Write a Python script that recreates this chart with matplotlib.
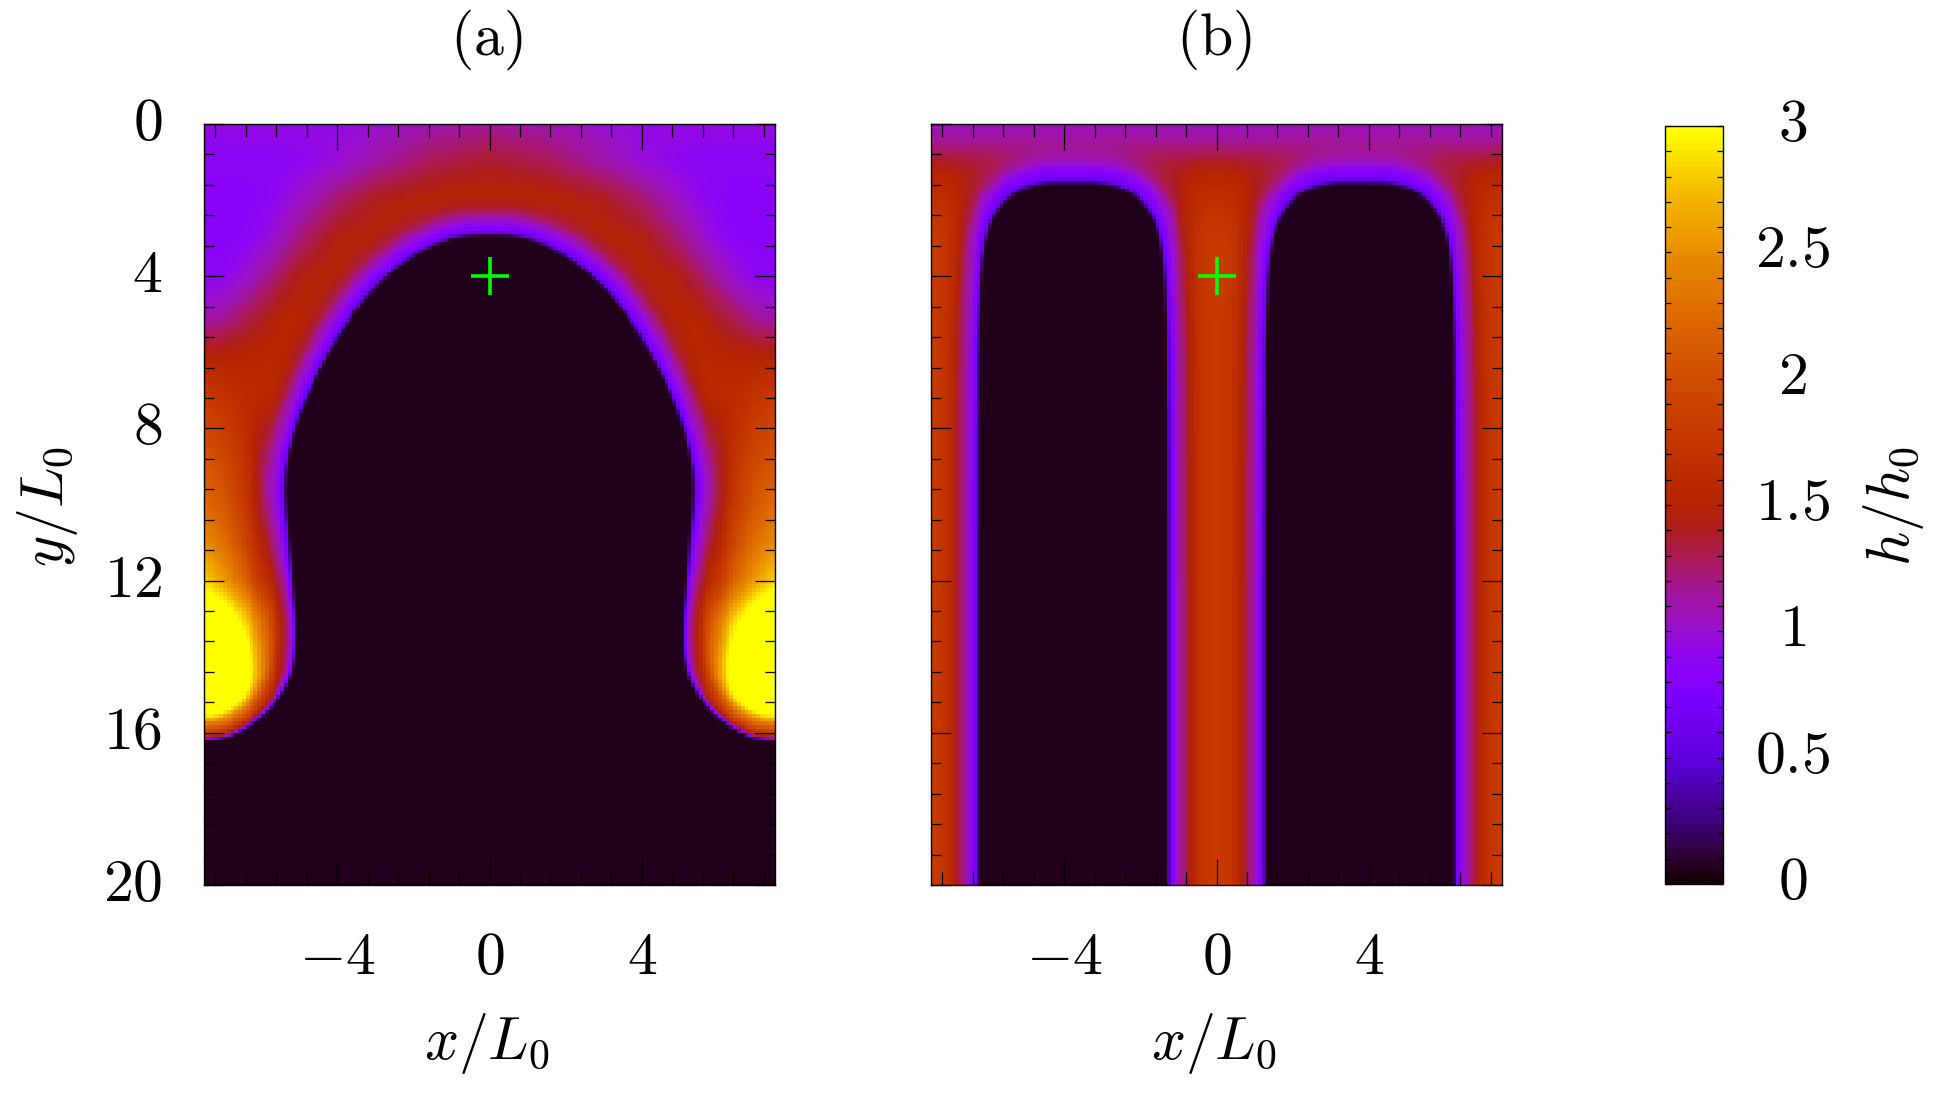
import numpy as np
import matplotlib
matplotlib.use("Agg")
import matplotlib.pyplot as plt
from matplotlib.colors import LinearSegmentedColormap
from matplotlib.path import Path
from matplotlib.ticker import MultipleLocator
from matplotlib.transforms import ScaledTranslation

plt.rcParams['mathtext.fontset'] = 'cm'

# colour scale
cmap_levels = [0.0, 0.05, 0.1, 0.25, 0.5, 0.75, 0.9, 1.0, 1.15, 1.25, 1.4, 1.5, 1.75, 2.0, 2.25, 2.5, 2.75, 3.0]
cmap_colors = ['#140004', '#22001c', '#2e0034', '#3f007f', '#6000e0', '#8000ff', '#8c05f0', '#990fd0',
               '#a0159a', '#a81868', '#ad1c20', '#b42300', '#c43600', '#cf4b00', '#dd6a00', '#e88c00', '#f4bb00', '#ffff00']

# rise of the film height with distance from the dry front (fraction of local ridge height)
ramp_d = [0.0, 0.05, 0.1, 0.2, 0.3, 0.5, 0.65, 0.8, 1.0, 1.28]
ramp_f = [0.03, 0.15, 0.35, 0.50, 0.58, 0.70, 0.82, 0.90, 0.96, 1.0]
dry_h = 0.05

# panel (a): right half of the dry front
front_a_x = [0, 0.6, 1.24, 2.27, 3.3, 4.35, 4.97, 5.22, 5.34, 5.30, 5.22, 5.15, 5.05, 5.05, 5.15, 5.52, 6.14, 6.87, 7.5, 9.0]
front_a_y = [2.96, 2.98, 3.12, 3.66, 4.62, 6.29, 7.69, 8.6, 9.4, 10.2, 11.0, 12.0, 13.1, 13.75, 14.46, 15.15, 15.77, 16.17, 16.25, 16.3]

# panel (a): ridge height, |x| by y
ridge_a_x = [0, 1.5, 3, 4, 5, 5.5, 6, 6.5, 7, 7.5]
ridge_a_y = [0, 1, 2, 3, 4, 5, 6, 7, 8, 9, 10, 11, 12, 13, 14, 15, 16, 21]
ridge_a = [
    [1.15, 1.10, 1.00, 0.95, 0.95, 0.95, 0.95, 0.95, 0.95, 0.95],
    [1.38, 1.30, 1.12, 0.98, 0.90, 0.88, 0.88, 0.88, 0.88, 0.88],
    [1.55, 1.52, 1.42, 1.25, 1.02, 0.93, 0.87, 0.85, 0.85, 0.85],
    [1.52, 1.52, 1.52, 1.46, 1.22, 1.05, 0.93, 0.87, 0.85, 0.85],
    [1.52, 1.52, 1.52, 1.52, 1.45, 1.28, 1.12, 0.98, 0.90, 0.88],
    [1.55, 1.55, 1.55, 1.55, 1.52, 1.50, 1.38, 1.25, 1.12, 1.08],
    [1.60, 1.60, 1.60, 1.60, 1.58, 1.55, 1.52, 1.50, 1.47, 1.45],
    [1.65, 1.65, 1.65, 1.65, 1.65, 1.65, 1.60, 1.60, 1.68, 1.75],
    [1.75, 1.75, 1.75, 1.75, 1.75, 1.70, 1.52, 1.65, 1.85, 1.95],
    [1.75, 1.75, 1.75, 1.75, 1.75, 1.75, 1.52, 1.75, 2.00, 2.10],
    [1.75, 1.75, 1.75, 1.75, 1.75, 1.75, 1.55, 1.85, 2.10, 2.25],
    [1.85, 1.85, 1.85, 1.85, 1.85, 1.85, 1.65, 2.00, 2.30, 2.50],
    [2.10, 2.10, 2.10, 2.10, 2.10, 2.10, 1.85, 2.25, 2.60, 2.85],
    [2.20, 2.20, 2.20, 2.20, 2.20, 2.30, 2.40, 2.90, 3.30, 3.50],
    [2.20, 2.20, 2.20, 2.20, 2.20, 2.30, 2.65, 3.30, 3.60, 3.60],
    [2.50, 2.50, 2.50, 2.50, 2.50, 2.60, 3.00, 3.50, 3.60, 3.60],
    [3.00, 3.00, 3.00, 3.00, 3.00, 3.40, 3.40, 3.40, 3.40, 3.40],
    [3.00, 3.00, 3.00, 3.00, 3.00, 3.40, 3.40, 3.40, 3.40, 3.40],
]

# panel (b): finger centres and the front of one finger, offset from its centre
finger_centres = [-3.77, 3.77]
finger_u = [0, 0.8, 1.41, 1.83, 2.09, 2.25, 2.35, 2.4, 2.45, 2.45]
finger_y = [1.6, 1.6, 1.77, 2.12, 2.52, 3.04, 3.75, 4.6, 6.4, 21.0]

# panel (b): ridge height, distance from gap centre by y
ridge_b_s = [0, 0.5, 1, 2, 3.77]
ridge_b_y = [0, 0.5, 0.8, 1, 1.5, 2, 3, 4, 21]
ridge_b = [
    [1.05, 1.05, 1.05, 1.05, 1.05],
    [1.18, 1.18, 1.18, 1.18, 1.18],
    [1.30, 1.30, 1.28, 1.26, 1.26],
    [1.42, 1.42, 1.36, 1.34, 1.34],
    [1.60, 1.55, 1.45, 1.42, 1.42],
    [1.70, 1.62, 1.52, 1.45, 1.45],
    [1.80, 1.75, 1.68, 1.68, 1.68],
    [1.80, 1.80, 1.78, 1.78, 1.78],
    [1.80, 1.80, 1.78, 1.78, 1.78],
]

cross_x = [0]
cross_y = [4]
major_x = [-4, 0, 4]
major_y = [0, 4, 8, 12, 16, 20]
bar_ticks = [0, 0.5, 1, 1.5, 2, 2.5, 3]
bar_labels = ['0', '0.5', '1', '1.5', '2', '2.5', '3']

W, H = 1935, 1097
FS = 43
nx, ny = 150, 200
xc = (np.arange(nx) + 0.5) * 0.1 - 7.5
yc = (np.arange(ny) + 0.5) * 0.1
XX, YY = np.meshgrid(xc, yc)
edges_x = np.linspace(-7.5, 7.5, nx + 1)
edges_y = np.linspace(0, 20, ny + 1)
edges_x_b = edges_x.copy()
edges_x_b[0] = -7.47


def chaikin(p, n=3):
    for _ in range(n):
        q = [p[0]]
        for a, b in zip(p[:-1], p[1:]):
            q += [0.75 * a + 0.25 * b, 0.25 * a + 0.75 * b]
        q.append(p[-1])
        p = np.array(q)
    return p


def seg_dist(poly):
    a, b = poly[:-1], poly[1:]
    px, py = XX.ravel()[:, None], YY.ravel()[:, None]
    ab = b - a
    t = ((px - a[:, 0]) * ab[:, 0] + (py - a[:, 1]) * ab[:, 1]) / (ab ** 2).sum(1)
    t = np.clip(t, 0, 1)
    dx = px - (a[:, 0] + t * ab[:, 0])
    dy = py - (a[:, 1] + t * ab[:, 1])
    return np.sqrt(dx ** 2 + dy ** 2).min(1).reshape(XX.shape)


def table(sv, yv, rows, S, Y):
    rows = np.array(rows)
    by_col = np.array([np.interp(Y.ravel(), yv, rows[:, j]) for j in range(len(sv))])
    s = S.ravel()
    sv = np.array(sv)
    idx = np.clip(np.searchsorted(sv, s) - 1, 0, len(sv) - 2)
    w = (s - sv[idx]) / (sv[idx + 1] - sv[idx])
    k = np.arange(s.size)
    out = by_col[idx, k] * (1 - w) + by_col[idx + 1, k] * w
    return out.reshape(S.shape)


def blur(f, n=3):
    for _ in range(n):
        g = np.pad(f, 1, mode='edge')
        f = (g[:-2, 1:-1] + g[2:, 1:-1] + g[1:-1, :-2] + g[1:-1, 2:] + 2 * g[1:-1, 1:-1]) / 6
    return f


def field(polys, ridge):
    h = np.full(XX.shape, np.inf)
    inside = np.zeros(XX.shape, bool)
    pts = np.c_[XX.ravel(), YY.ravel()]
    for poly in polys:
        h = np.minimum(h, seg_dist(poly))
        closed = np.vstack([poly, [poly[-1, 0], 40], [poly[0, 0], 40]])
        inside |= Path(closed).contains_points(pts).reshape(XX.shape)
    f = np.where(inside, dry_h, ridge * np.interp(h, ramp_d, ramp_f))
    return np.maximum(f, dry_h)


half = np.c_[front_a_x, front_a_y]
full = np.vstack([(half * [-1, 1])[:0:-1], half])
poly_a = chaikin(full)
h_a = field([poly_a], blur(table(ridge_a_x, ridge_a_y, ridge_a, np.abs(XX), YY)))

polys_b = []
for c in finger_centres:
    u = np.array(finger_u)
    y = np.array(finger_y)
    px = np.r_[c - u[::-1], c + u[1:]]
    py = np.r_[y[::-1], y[1:]]
    polys_b.append(chaikin(np.c_[px, py]))
gap = np.abs(np.abs(XX) - 7.54 * np.round(np.abs(XX) / 7.54))
h_b = field(polys_b, blur(table(ridge_b_s, ridge_b_y, ridge_b, gap, YY), 5))

cmap = LinearSegmentedColormap.from_list('film', [(v / 3.0, c) for v, c in zip(cmap_levels, cmap_colors)], N=128)

fig = plt.figure(figsize=(W / 100, H / 100), dpi=100, facecolor='white')


def add_axes(l, t, r, b):
    return fig.add_axes([l / W, 1 - b / H, (r - l) / W, (b - t) / H])


def nudge(labels, dx_px, dy_px):
    off = ScaledTranslation(dx_px / 100, dy_px / 100, fig.dpi_scale_trans)
    for lab in labels:
        lab.set_transform(lab.get_transform() + off)


ax_a = add_axes(204, 124, 775, 885)
ax_b = add_axes(931, 124, 1502, 885)
cax = add_axes(1665, 126, 1723, 884)

for ax, h, ex in ((ax_a, h_a, edges_x), (ax_b, h_b, edges_x_b)):
    im = ax.pcolormesh(ex, edges_y, h, cmap=cmap, vmin=0, vmax=3, shading='flat', rasterized=True)
    ax.plot(cross_x, cross_y, '+', color='#00ff00', ms=27.5, mew=2.6)
    ax.set_xlim(-7.5, 7.5)
    ax.set_ylim(20, 0)
    ax.set_xticks(major_x)
    ax.set_xticklabels([rf'${v}$' for v in major_x], fontsize=FS)
    ax.set_yticks(major_y)
    ax.xaxis.set_minor_locator(MultipleLocator(0.8))
    ax.yaxis.set_minor_locator(MultipleLocator(0.8))
    ax.tick_params(axis='x', which='major', direction='in', top=True, bottom=True, length=18.5, width=0.9, pad=31)
    ax.tick_params(axis='x', which='minor', direction='in', top=True, bottom=True, length=9.1, width=0.9)
    ax.tick_params(axis='y', which='major', direction='in', left=True, right=True, length=14.4, width=0.9, pad=30)
    ax.tick_params(axis='y', which='minor', direction='in', left=True, right=True, length=6.9, width=0.9)
    for s in ax.spines.values():
        s.set_linewidth(1.0)

ax_a.set_yticklabels([rf'${v}$' for v in major_y], fontsize=FS)
ax_b.set_yticklabels([])
ax_a.set_title(r'$\mathrm{(a)}$', fontsize=FS, pad=50, x=0.495)
ax_b.set_title(r'$\mathrm{(b)}$', fontsize=FS, pad=50, x=0.495)

cb = fig.colorbar(im, cax=cax)
cb.set_ticks(bar_ticks)
cb.set_ticklabels([rf'${v}$' for v in bar_labels], fontsize=FS)
cax.yaxis.set_minor_locator(MultipleLocator(0.1))
cax.tick_params(axis='y', which='both', direction='in', left=True, right=True, length=4.5, width=0.9, pad=50)
for lab in cax.get_yticklabels():
    lab.set_horizontalalignment('center')
cb.outline.set_linewidth(1.0)

fig.canvas.draw()
nudge(ax_a.get_yticklabels(), 0, 7)
nudge(cax.get_yticklabels(), 0, 8)

# axis titles placed at the reference's pixel positions
fig.text(487 / W, 1 - 1044 / H, r'$x/L_0$', fontsize=FS, ha='center', va='center')
fig.text(1214 / W, 1 - 1044 / H, r'$x/L_0$', fontsize=FS, ha='center', va='center')
fig.text(47 / W, 1 - 506 / H, r'$y/L_0$', fontsize=FS, ha='center', va='center', rotation=90)
fig.text(1893 / W, 1 - 506 / H, r'$h/h_0$', fontsize=FS, ha='center', va='center', rotation=90)

fig.savefig('out.png', dpi=100, facecolor='white')
